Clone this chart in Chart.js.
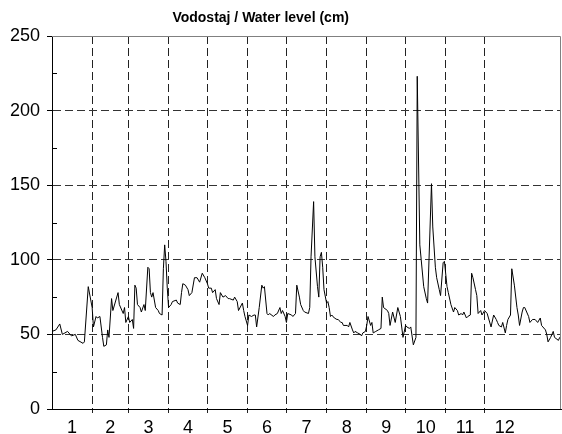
<!DOCTYPE html>
<html>
<head>
<meta charset="utf-8">
<script src="https://cdn.jsdelivr.net/npm/chart.js@4.4.0/dist/chart.umd.min.js"></script>
<style>
html, body { margin: 0; padding: 0; background: #fff; }
</style>
</head>
<body>
<canvas id="chart" width="562" height="434"></canvas>
<script>
var TITLE = 'Vodostaj / Water level (cm)';
var months = ['1', '2', '3', '4', '5', '6', '7', '8', '9', '10', '11', '12'];
var monthDays = [31, 28, 31, 30, 31, 30, 31, 31, 30, 31, 30, 31];
var yTicks = [0, 50, 100, 150, 200, 250];
var yMinor = [25, 75, 125, 175, 225];

// day of record (0 = 1 Jan) and water level in cm
var day = [0, 3, 6, 8, 12, 15, 18, 20, 24, 25, 28, 31, 32, 34, 35, 37, 39, 40, 42, 43, 44, 46, 47,
    51, 52, 55, 56, 57, 59, 60, 62, 63, 64, 65, 66, 68, 69, 71, 72, 74, 75, 76, 77, 78, 80, 82, 83,
    85, 86, 87, 88, 89, 90, 92, 93, 96, 97, 99, 100, 101, 103, 105, 106, 108, 110, 112, 114, 116,
    118, 120, 121, 123, 124, 126, 127, 129, 130, 132, 134, 136, 137, 140, 141, 143, 144, 147, 148,
    149, 151, 152, 154, 156, 157, 158, 160, 162, 163, 164, 166, 167, 168, 171, 172, 174, 176, 177,
    178, 180, 181, 182, 185, 186, 188, 189, 191, 192, 194, 195, 198, 199, 200, 202, 203, 205, 206,
    207, 208, 209, 210, 212, 213, 214, 215, 216, 218, 220, 221, 223, 224, 225, 228, 229, 230, 232,
    233, 234, 236, 238, 239, 240, 242, 243, 244, 246, 247, 248, 250, 252, 254, 255, 256, 259, 260,
    261, 263, 265, 267, 269, 271, 273, 274, 276, 277, 279, 281, 282, 284, 287, 289, 290, 293, 294,
    296, 297, 299, 300, 302, 303, 305, 306, 308, 310, 311, 313, 314, 316, 317, 318, 320, 321, 323,
    324, 325, 327, 328, 329, 331, 332, 334, 336, 337, 339, 341, 343, 344, 345, 347, 348, 350, 351,
    352, 354, 355, 357, 359, 360, 361, 363, 364, 365, 368, 369, 371, 373, 375, 377, 378, 379, 381,
    382, 383, 385, 386, 387, 388, 391, 392, 393];
var level = [52, 53, 57, 50, 52, 49, 50, 46, 44, 45, 82, 68, 55, 62, 61, 62, 48, 42, 43, 53, 48, 74, 66,
    78, 70, 64, 68, 58, 62, 58, 60, 54, 83, 81, 70, 68, 65, 70, 66, 95, 94, 78, 75, 78, 68, 66, 64,
    63, 94, 110, 99, 81, 68, 70, 72, 73, 71, 70, 78, 84, 83, 80, 76, 78, 88, 88, 85, 91,
    88, 84, 81, 81, 78, 80, 74, 70, 78, 75, 76, 74, 74, 73, 75, 72, 66, 71, 66,
    62, 56, 63, 62, 63, 63, 55, 68, 83, 81, 82, 64, 63, 64, 62, 63, 64, 68, 64,
    66, 62, 58, 64, 63, 62, 64, 83, 75, 70, 66, 65, 64, 68, 102, 139, 102, 82, 75,
    102, 105, 95, 80, 71, 72, 68, 62, 63, 61, 60, 60, 58, 58, 56, 56, 55, 58, 53,
    51, 52, 51, 50, 49, 51, 52, 56, 62, 56, 58, 51, 52, 53, 54, 75, 68, 66, 64,
    56, 65, 58, 68, 62, 48, 56, 55, 54, 55, 43, 48, 223, 110, 82, 74, 71, 151, 122,
    95, 88, 80, 76, 98, 99, 82, 78, 70, 65, 68, 66, 63, 64, 63, 65, 61, 62, 63,
    91, 88, 80, 76, 64, 66, 63, 66, 64, 61, 55, 63, 60, 58, 56, 55, 58, 51, 56,
    60, 63, 94, 83, 68, 63, 56, 65, 68, 68, 62, 58, 60, 60, 58, 61, 56, 55, 53,
    50, 45, 48, 50, 52, 48, 46, 48, 48];

var monthEnds = [];
var monthMids = [];
var acc = 0;
monthDays.forEach(function (d, i) {
    monthMids.push(acc + d / 2);
    acc += d;
    if (i < monthDays.length - 1) monthEnds.push(acc);
});

var points = day.map(function (d, i) { return { x: d, y: level[i] }; });

function isEnd(v) { return monthEnds.indexOf(v) !== -1; }

var extras = {
    id: 'extras',
    afterDraw: function (chart) {
        var a = chart.chartArea, ctx = chart.ctx, ys = chart.scales.y;
        ctx.save();
        // frame top/right
        ctx.strokeStyle = '#808080';
        ctx.lineWidth = 1;
        ctx.beginPath();
        ctx.moveTo(a.left, a.top + 0.5);
        ctx.lineTo(a.right - 0.5, a.top + 0.5);
        ctx.lineTo(a.right - 0.5, a.bottom);
        ctx.stroke();
        // minor y ticks
        ctx.strokeStyle = '#000';
        ctx.beginPath();
        yMinor.forEach(function (v) {
            var py = Math.round(ys.getPixelForValue(v)) + 0.5;
            ctx.moveTo(a.left, py);
            ctx.lineTo(a.left + 5, py);
        });
        ctx.stroke();
        // title
        ctx.fillStyle = '#000';
        ctx.font = 'bold 14px "Liberation Sans", Arial, sans-serif';
        ctx.textAlign = 'center';
        ctx.textBaseline = 'middle';
        ctx.fillText(TITLE, a.left + a.width * 0.41, 18);
        ctx.restore();
    }
};

var font = { family: '"Liberation Sans", Arial, sans-serif', size: 18 };

new Chart(document.getElementById('chart').getContext('2d'), {
    type: 'line',
    data: {
        datasets: [{
            data: points,
            borderColor: '#000',
            borderWidth: 1,
            pointRadius: 0,
            tension: 0,
            fill: false
        }]
    },
    options: {
        responsive: false,
        animation: false,
        layout: { padding: { top: 36, right: 1, left: 0, bottom: 0 } },
        plugins: {
            legend: { display: false },
            tooltip: { enabled: false },
            title: { display: false }
        },
        scales: {
            x: {
                type: 'linear',
                min: 0,
                max: day[day.length - 1],
                afterBuildTicks: function (scale) {
                    var t = [];
                    monthEnds.forEach(function (v) { t.push({ value: v }); });
                    monthMids.forEach(function (v) { t.push({ value: v }); });
                    t.sort(function (p, q) { return p.value - q.value; });
                    scale.ticks = t;
                },
                afterFit: function (scale) { scale.height = 25; },
                ticks: {
                    autoSkip: false,
                    maxRotation: 0,
                    padding: 4,
                    color: '#000',
                    font: font,
                    callback: function (v) {
                        var i = monthMids.indexOf(v);
                        return i === -1 ? '' : months[i];
                    }
                },
                grid: {
                    color: function (c) { return c.tick && isEnd(c.tick.value) ? '#222' : 'rgba(0,0,0,0)'; },
                    tickColor: function (c) { return c.tick && isEnd(c.tick.value) ? '#222' : 'rgba(0,0,0,0)'; },
                    tickLength: 4,
                    lineWidth: 1
                },
                border: { display: true, color: '#000', width: 1, dash: [8, 4] }
            },
            y: {
                min: 0,
                max: 250,
                afterBuildTicks: function (scale) {
                    scale.ticks = yTicks.map(function (v) { return { value: v }; });
                },
                afterFit: function (scale) { scale.width = 52; },
                ticks: {
                    padding: 7,
                    color: '#000',
                    font: font
                },
                grid: {
                    color: function (c) { return c.tick && (c.tick.value === 0 || c.tick.value === 250) ? 'rgba(0,0,0,0)' : '#333'; },
                    tickColor: '#000',
                    tickLength: 5,
                    lineWidth: 1
                },
                border: { display: true, color: '#000', width: 1, dash: [8, 4] }
            }
        }
    },
    plugins: [extras]
});
</script>
</body>
</html>
